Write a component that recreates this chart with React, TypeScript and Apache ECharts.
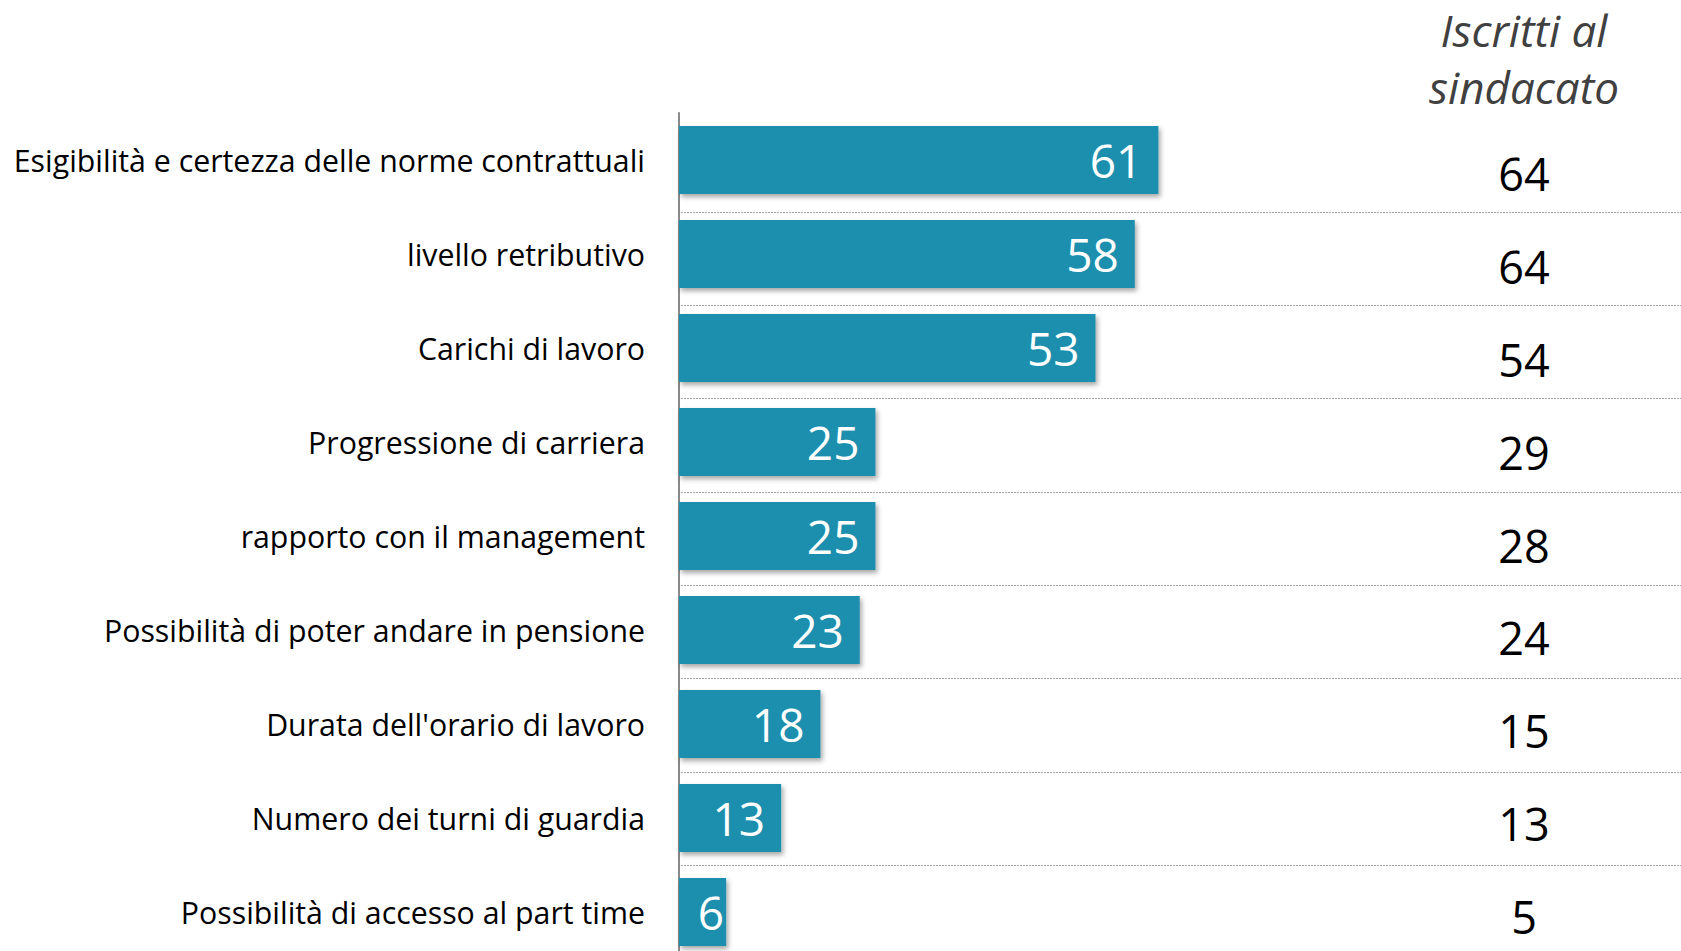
import React, { useEffect, useRef } from "react";
import * as echarts from "echarts";

const categories = [
  "Esigibilità e certezza delle norme contrattuali",
  "livello retributivo",
  "Carichi di lavoro",
  "Progressione di carriera",
  "rapporto con il management",
  "Possibilità di poter andare in pensione",
  "Durata dell'orario di lavoro",
  "Numero dei turni di guardia",
  "Possibilità di accesso al part time",
];
const totale = [61, 58, 53, 25, 25, 23, 18, 13, 6];
const iscritti = [64, 64, 54, 29, 28, 24, 15, 13, 5];
const headerText = "Iscritti al\nsindacato";

const FONT = "'Open Sans', 'Noto Sans', sans-serif";

export default function App() {
  const ref = useRef<HTMLDivElement>(null);
  useEffect(() => {
    if (!ref.current) return;
    const chart = echarts.init(ref.current, undefined, { renderer: "svg" });
    const barData = totale.map((v) => ({
      value: v,
      label: v < 10 ? { distance: 2 } : undefined,
    }));
    chart.setOption({
      animation: false,
      backgroundColor: "#ffffff",
      grid: [
        { left: 679, top: 113, width: 1002, height: 846, containLabel: false, outerBoundsMode: "none" },
        { left: 681, top: 118.7, width: 1000, height: 840, containLabel: false, outerBoundsMode: "none" },
        { left: 681, top: 127, width: 1000, height: 836, containLabel: false, outerBoundsMode: "none" },
      ],
      xAxis: [
        { type: "value", gridIndex: 0, min: 0, max: 127.5, show: false },
        { type: "value", gridIndex: 1, min: 0, max: 100, show: false },
        { type: "value", gridIndex: 2, min: 0, max: 100, show: false },
      ],
      yAxis: [
        {
          type: "category",
          gridIndex: 0,
          data: categories,
          inverse: true,
          axisLine: { show: true, lineStyle: { color: "#8a8a8a", width: 2 } },
          axisTick: { show: false },
          splitLine: { show: false },
          axisLabel: {
            color: "#000000",
            fontSize: 30.3,
            fontFamily: FONT,
            margin: 34,
          },
        },
        {
          type: "category",
          gridIndex: 1,
          data: categories,
          inverse: true,
          axisLine: { show: false },
          axisTick: { show: false },
          axisLabel: { show: false },
          splitLine: {
            show: true,
            interval: (index: number) => index !== 0,
            lineStyle: {
              color: "#a0a0a0",
              width: 1,
              type: [2, 1],
            },
          },
        },
        {
          type: "category",
          gridIndex: 2,
          data: categories,
          inverse: true,
          position: "right",
          offset: -157,
          axisLine: { show: false },
          axisTick: { show: false },
          splitLine: { show: false },
          axisLabel: {
            color: "#000000",
            fontSize: 45,
            fontFamily: FONT,
            margin: 0,
            align: "center",
            formatter: (_v: string, i: number) => String(iscritti[i]),
          },
        },
      ],
      graphic: [
        {
          type: "text",
          x: 1524,
          y: 1,
          style: {
            text: headerText,
            fill: "#404040",
            fontSize: 44,
            fontStyle: "italic",
            fontFamily: FONT,
            lineHeight: 57,
            textAlign: "center",
            textVerticalAlign: "top",
          },
        },
      ],
      series: [
        {
          type: "bar",
          xAxisIndex: 0,
          yAxisIndex: 0,
          data: barData,
          barWidth: 68,
          itemStyle: {
            color: "#1f8fae",
            shadowColor: "rgba(0,0,0,0.35)",
            shadowBlur: 5,
            shadowOffsetX: 2,
            shadowOffsetY: 3,
          },
          label: {
            show: true,
            position: "insideRight",
            distance: 16,
            color: "#ffffff",
            fontSize: 46,
            fontFamily: FONT,
          },
        },
      ],
    });
    return () => chart.dispose();
  }, []);
  return (
    <div
      ref={ref}
      style={{ position: "absolute", left: 0, top: 0, width: 1681, height: 951 }}
    />
  );
}
